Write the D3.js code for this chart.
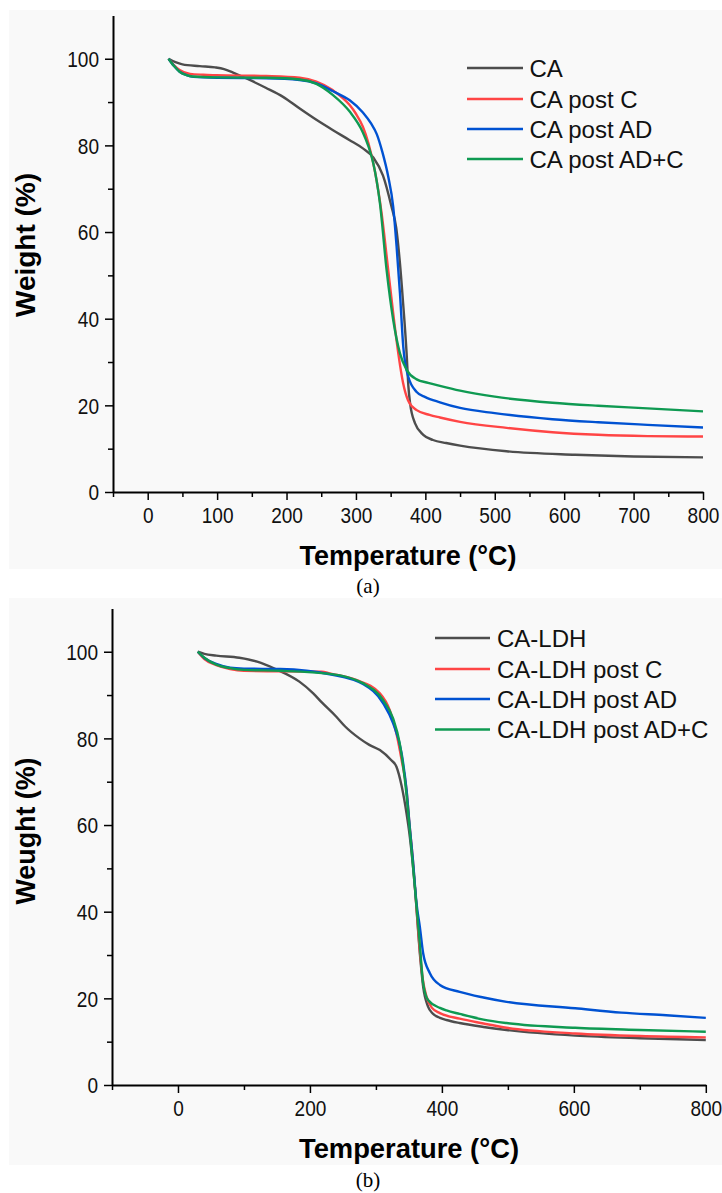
<!DOCTYPE html>
<html><head><meta charset="utf-8">
<script src="https://cdn.jsdelivr.net/npm/d3@7"></script>
<style>
html,body{margin:0;padding:0;background:#fff;}
svg{display:block;}
</style></head>
<body>
<svg id="chart" width="722" height="1193"></svg>
<script>
// ---------- DATA ----------
const legendA = ["CA", "CA post C", "CA post AD", "CA post AD+C"];
const legendB = ["CA-LDH", "CA-LDH post C", "CA-LDH post AD", "CA-LDH post AD+C"];
const seriesColors = ["#4d4d4d", "#ff4545", "#0052d2", "#0f9a52"];

const xTicksA = [0, 100, 200, 300, 400, 500, 600, 700, 800];
const xTicksB = [0, 200, 400, 600, 800];
const yTicks = [0, 20, 40, 60, 80, 100];

// Panel (a) series: [temperature °C, weight %]
const caA = [[30,100],[40,99.2],[50,98.7],[75,98.3],[97,98.0],[110,97.6],[123,96.8],[147,95.1],[170,93.3],[195,91.2],[219,88.5],[243,85.9],[267,83.5],[291,81.2],[310,79.3],[325,77.2],[339,73],[351,66],[358,61],[363,53.5],[368,43.5],[373,32],[375.5,24.5],[378,20.5],[385,15.9],[397,13.2],[411,12],[430,11.3],[450,10.7],[517,9.4],[616,8.6],[700,8.2],[800,8.0]];
const caPostC_A = [[30,100],[38,98.5],[46,97.4],[61,96.5],[80,96.3],[99,96.2],[171,96],[219,95.6],[243,94.7],[267,92.7],[291,89.3],[300,87.3],[310,84.3],[318,80.5],[327,74.3],[337,64.3],[346.5,51.2],[353.7,41.2],[361,32],[368,25.1],[375,21.2],[387.5,18.9],[406,17.8],[421,17.2],[450,16.2],[517,14.8],[583,13.8],[649,13.2],[720,12.9],[800,12.8]];
const caPostAD_A = [[30,100],[38,98.3],[46,97],[56,96.2],[66,95.8],[100,95.6],[171,95.5],[219,95.1],[243,94.3],[267,92.5],[291,90.4],[310,87.6],[322,85],[330,82.6],[338,78.5],[346.5,72.8],[353.7,65.8],[358.6,56.6],[363.4,45.9],[368.2,33.5],[375.4,26.6],[387.5,23.1],[400,21.9],[421,20.7],[450,19.4],[500,18.2],[583,16.8],[649,16.1],[720,15.5],[800,14.9]];
const caPostADC_A = [[30,100],[38,98.3],[46,97],[56,96.2],[65,95.9],[100,95.7],[171,95.6],[219,95.2],[243,94.2],[267,91.6],[291,87.8],[310,83],[318,79.8],[325,75.9],[334.6,66.6],[344.2,51.2],[353.7,39.7],[363.4,32],[373,28.2],[387.5,26],[404,25.2],[421,24.5],[450,23.4],[500,22.0],[583,20.6],[649,19.9],[720,19.3],[800,18.6]];

// Panel (b) series
const caLdhB = [[30,100],[40,99.5],[58,99.1],[93,98.6],[120,97.7],[148,96.0],[184,93.1],[205,90.4],[218,88.3],[240,85],[253,82.8],[275,80],[290,78.5],[306,77.3],[323,75],[331,73.5],[339,69],[346.4,62.7],[351.4,57.3],[359,45.8],[366.6,30.4],[371.6,22.7],[379,18.1],[386,16.5],[397,15.5],[407,15],[427,14.3],[463,13.4],[498,12.7],[602,11.4],[700,10.8],[800,10.4]];
const caLdhPostC_B = [[30,100],[40,98.3],[58,96.9],[79,96],[100,95.6],[218,95.4],[230,95.0],[270,93.5],[306,90.4],[321,86.5],[331,81.2],[339,75],[346.4,68.1],[351,60],[356,52],[361.5,41],[366,32],[371,24.5],[376.7,20.4],[385,17.8],[397,16.6],[427,15.3],[463,14.2],[498,13.2],[602,11.9],[700,11.3],[800,11.0]];
const caLdhPostAD_B = [[30,100],[40.5,98.5],[58,97.2],[79,96.3],[100,96.1],[155,96.0],[230,94.8],[281,92.5],[311,88.1],[326,83.5],[339,76.5],[346.4,68.1],[351,60],[356,52],[361.5,42],[366.6,36.5],[371.6,30.4],[381.8,25.8],[397,23.1],[427,21.5],[463,20.2],[498,19.2],[602,17.7],[672,16.7],[740,16.1],[800,15.5]];
const caLdhPostADC_B = [[30,100],[40,98.6],[58,97.0],[79,96.2],[100,95.8],[155,95.6],[230,94.9],[281,92.7],[311,88.8],[326,84.6],[336,78.9],[346.4,67],[351.4,58.8],[359,45.8],[365.6,34.2],[371.6,23.5],[379,19.6],[397,17.8],[407,17.2],[427,16.4],[463,15.1],[498,14.3],[602,13.2],[700,12.7],[800,12.3]];

const seriesA = [caA, caPostC_A, caPostAD_A, caPostADC_A];
const seriesB = [caLdhB, caLdhPostC_B, caLdhPostAD_B, caLdhPostADC_B];

// ---------- DRAW ----------
const svg = d3.select("#chart");
svg.append("rect").attr("width", 722).attr("height", 1193).attr("fill", "#fff");

function panel(cfg) {
  const g = svg.append("g");
  g.append("rect").attr("x", 9).attr("y", cfg.bgTop).attr("width", 713).attr("height", cfg.bgH).attr("fill", "#f9f9f9");

  const x = d3.scaleLinear().domain(cfg.xDomain).range(cfg.xRange);
  const y = d3.scaleLinear().domain([0, 110]).range(cfg.yRange);

  // minor ticks
  g.append("g").attr("transform", `translate(0,${cfg.yRange[0]})`)
    .call(d3.axisBottom(x).tickValues(cfg.xMinor).tickSize(5).tickFormat("").tickSizeOuter(0))
    .call(s => s.select(".domain").remove())
    .call(s => s.selectAll("line").attr("stroke", "#000").attr("stroke-width", 1.5));
  g.append("g").attr("transform", `translate(${cfg.xRange[0]},0)`)
    .call(d3.axisLeft(y).tickValues([10, 30, 50, 70, 90]).tickSize(5).tickFormat("").tickSizeOuter(0))
    .call(s => s.select(".domain").remove())
    .call(s => s.selectAll("line").attr("stroke", "#000").attr("stroke-width", 1.5));

  // major axes
  const xa = g.append("g").attr("transform", `translate(0,${cfg.yRange[0]})`)
    .call(d3.axisBottom(x).tickValues(cfg.xTicks).tickSize(8).tickPadding(6).tickSizeOuter(0));
  const ya = g.append("g").attr("transform", `translate(${cfg.xRange[0]},0)`)
    .call(d3.axisLeft(y).tickValues(yTicks).tickSize(8).tickPadding(6).tickSizeOuter(0));
  [xa, ya].forEach(a => {
    a.select(".domain").attr("stroke", "#000").attr("stroke-width", 2);
    a.selectAll(".tick line").attr("stroke", "#000").attr("stroke-width", 1.5);
    a.selectAll(".tick text")
      .attr("fill", "#111")
      .style("font-family", "'Liberation Sans', Arial, sans-serif")
      .style("font-size", "22px")
      .attr("lengthAdjust", "spacingAndGlyphs")
      .attr("textLength", function() { return this.textContent.length * 10.6; });
  });
  ya.selectAll(".tick text").attr("dy", "0.36em");
  xa.selectAll(".tick text").attr("dy", "0.78em");

  // series
  const line = d3.line().x(d => x(d[0])).y(d => y(d[1])).curve(d3.curveMonotoneX);
  cfg.series.forEach((s, i) => {
    g.append("path").datum(s).attr("d", line)
      .attr("fill", "none").attr("stroke", seriesColors[i])
      .attr("stroke-width", 2.4).attr("stroke-linejoin", "round");
  });

  // legend
  cfg.legend.forEach((name, i) => {
    const ly = cfg.legY[i];
    g.append("line").attr("x1", cfg.legX[0]).attr("x2", cfg.legX[1]).attr("y1", ly).attr("y2", ly)
      .attr("stroke", seriesColors[i]).attr("stroke-width", 2.6);
    g.append("text").attr("x", cfg.legX[2]).attr("y", ly + 8.5).text(name)
      .style("font-family", "'Liberation Sans', Arial, sans-serif").style("font-size", "24px").attr("fill", "#111");
  });

  // axis titles
  g.append("text").attr("x", cfg.xLabel[0]).attr("y", cfg.xLabel[1]).attr("text-anchor", "middle")
    .text("Temperature (°C)")
    .style("font-family", "'Liberation Sans', Arial, sans-serif").style("font-size", "27px").style("font-weight", "bold")
    .attr("lengthAdjust", "spacingAndGlyphs").attr("textLength", cfg.xLabel[2]);
  g.append("text").attr("transform", `translate(${cfg.yLabel[0]},${cfg.yLabel[1]}) rotate(-90)`).attr("text-anchor", "middle")
    .text(cfg.yTitle)
    .style("font-family", "'Liberation Sans', Arial, sans-serif").style("font-size", "27px").style("font-weight", "bold")
    .attr("lengthAdjust", "spacingAndGlyphs").attr("textLength", cfg.yLabel[2]);

  // caption
  svg.append("text").attr("x", 368).attr("y", cfg.capY).attr("text-anchor", "middle").text(cfg.caption)
    .style("font-family", "'Liberation Serif', 'Times New Roman', serif").style("font-size", "21px").attr("fill", "#000");
}

panel({
  bgTop: 10, bgH: 559,
  xDomain: [-50, 800], xRange: [113, 703], yRange: [492, 15.4],
  xTicks: xTicksA, xMinor: [-50, 50, 150, 250, 350, 450, 550, 650, 750],
  series: seriesA, legend: legendA,
  legX: [467, 523, 529.5], legY: [68, 99, 129, 159],
  xLabel: [408, 565, 217], yLabel: [35, 245, 144], yTitle: "Weight (%)",
  caption: "(a)", capY: 593
});
panel({
  bgTop: 598, bgH: 567,
  xDomain: [-100, 800], xRange: [112, 705.8], yRange: [1085, 608.4],
  xTicks: xTicksB, xMinor: [-100, 100, 300, 500, 700],
  series: seriesB, legend: legendB,
  legX: [435, 490, 497], legY: [638, 669, 699, 729.5],
  xLabel: [409, 1158, 220], yLabel: [35, 831, 147], yTitle: "Weught (%)",
  caption: "(b)", capY: 1187
});
</script>
</body></html>
